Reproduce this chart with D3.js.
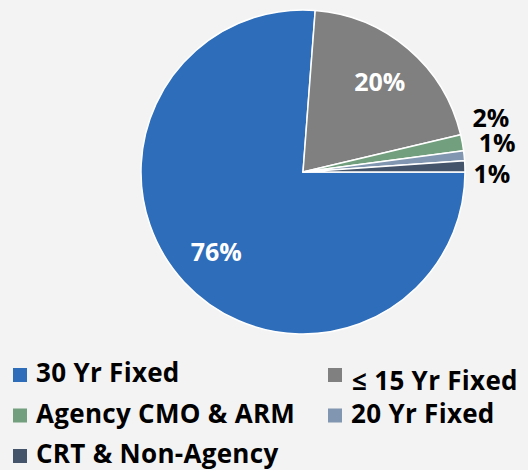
<!DOCTYPE html>
<html>
<head>
<meta charset="utf-8">
<script src="https://cdn.jsdelivr.net/npm/d3@7"></script>
<style>
  html, body { margin: 0; padding: 0; background: #f3f3f3; }
  svg { display: block; }
  text { font-family: "Open Sans", "Noto Sans", sans-serif; font-weight: 700; }
</style>
</head>
<body>
<div id="chart"></div>
<script>
// Chart size
var chartWidth = 528;
var chartHeight = 470;
var centerX = 303;
var centerY = 172;
var radius = 162;

// Data
var categories = ["30 Yr Fixed", "\u2264 15 Yr Fixed", "Agency CMO & ARM", "20 Yr Fixed", "CRT & Non-Agency"];
var shares = [76.2, 20.1, 1.6, 1.0, 1.1];
var shareLabels = ["76%", "20%", "2%", "1%", "1%"];
var sliceColors = ["#2d6dba", "#808080", "#72a07e", "#8196b0", "#44546a"];

var data = categories.map((c, i) => ({ category: c, value: shares[i], label: shareLabels[i], color: sliceColors[i] }));

var svg = d3.select("#chart")
    .append("svg")
    .attr("width", chartWidth)
    .attr("height", chartHeight);

// Pie starts at 3 o'clock and runs clockwise
var pieLayout = d3.pie()
    .value(d => d.value)
    .sort(null)
    .startAngle(Math.PI / 2)
    .endAngle(Math.PI / 2 + 2 * Math.PI);

var arcs = pieLayout(data);

var arcGenerator = d3.arc().innerRadius(0).outerRadius(radius);
var innerLabelArc = d3.arc().innerRadius(radius * 0.73).outerRadius(radius * 0.73);
var outerLabelArc = d3.arc().innerRadius(190).outerRadius(190);

var pieGroup = svg.append("g")
    .attr("transform", "translate(" + centerX + "," + centerY + ")");

pieGroup.selectAll("path.slice")
    .data(arcs)
    .enter()
    .append("path")
    .attr("class", "slice")
    .attr("d", arcGenerator)
    .attr("fill", d => d.data.color)
    .attr("stroke", "#ffffff")
    .attr("stroke-width", 1.5)
    .attr("stroke-linejoin", "round");

// Big slices get white labels inside
pieGroup.selectAll("text.inside")
    .data(arcs.filter(d => d.data.value > 10))
    .enter()
    .append("text")
    .attr("class", "inside")
    .attr("transform", d => "translate(" + innerLabelArc.centroid(d) + ")")
    .attr("text-anchor", "middle")
    .attr("dy", "0.35em")
    .attr("font-size", "25px")
    .attr("fill", "#ffffff")
    .text(d => d.data.label);

// Small slices get black labels outside, spread apart vertically
var labelNudge = [[1, -19], [5, -9], [-1, 9]];
pieGroup.selectAll("text.outside")
    .data(arcs.filter(d => d.data.value <= 10))
    .enter()
    .append("text")
    .attr("class", "outside")
    .attr("transform", (d, i) => {
        var [x, y] = outerLabelArc.centroid(d);
        return "translate(" + (x + labelNudge[i][0]) + "," + (y + labelNudge[i][1]) + ")";
    })
    .attr("text-anchor", "middle")
    .attr("dy", "0.33em")
    .attr("font-size", "25px")
    .attr("fill", "#000000")
    .text(d => d.data.label);

// Legend: two columns
var legendCols = d3.scaleOrdinal().domain([0, 1]).range([13, 328]);
var legendRows = d3.scalePoint().domain([0, 1, 2]).range([375, 456]);

var legendItems = svg.selectAll("g.legend")
    .data(data)
    .enter()
    .append("g")
    .attr("class", "legend")
    .attr("transform", (d, i) => "translate(" + legendCols(i % 2) + "," + legendRows(Math.floor(i / 2)) + ")");

legendItems.append("rect")
    .attr("x", 0)
    .attr("y", -7)
    .attr("width", 14)
    .attr("height", 14)
    .attr("fill", d => d.color);

legendItems.append("text")
    .attr("x", (d, i) => i === 1 ? 24 : 23)
    .attr("y", (d, i) => i === 1 ? 15 : 7)
    .attr("font-size", "26px")
    .attr("letter-spacing", "0.3px")
    .attr("fill", "#000000")
    .text(d => d.category);
</script>
</body>
</html>
